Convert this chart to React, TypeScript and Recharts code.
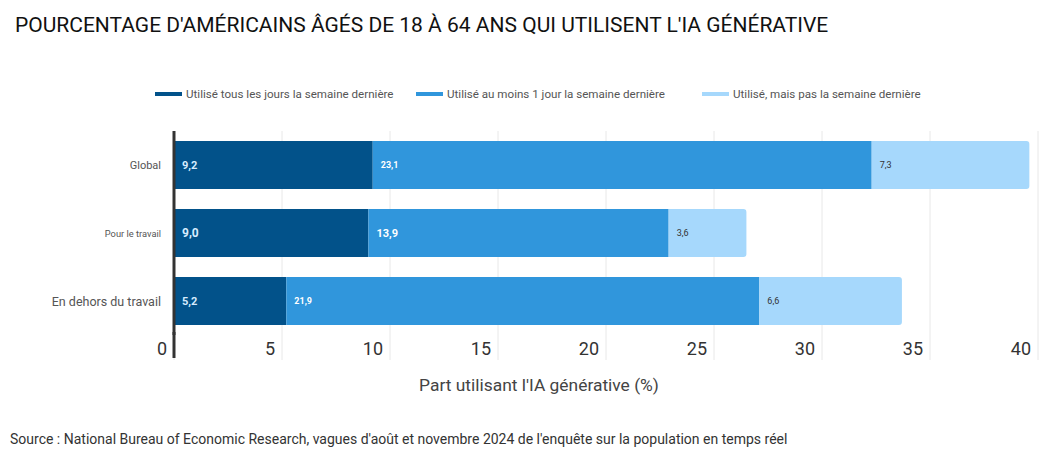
import { Bar, BarChart, CartesianGrid, LabelList, XAxis, YAxis } from "recharts";

const categories = ["Global", "Pour le travail", "En dehors du travail"];
const dailyLastWeek = [9.2, 9.0, 5.2];
const atLeastOneDay = [23.1, 13.9, 21.9];
const notLastWeek = [7.3, 3.6, 6.6];
const xTicks = [0, 5, 10, 15, 20, 25, 30, 35, 40];

const seriesNames = [
  "Utilisé tous les jours la semaine dernière",
  "Utilisé au moins 1 jour la semaine dernière",
  "Utilisé, mais pas la semaine dernière",
];

const COLORS = ["#02528a", "#3096dc", "#a6d8fc"];
const FONT = "Roboto, 'Noto Sans', sans-serif";

const data = categories.map((name, i) => ({
  name,
  daily: dailyLastWeek[i],
  weekly: atLeastOneDay[i],
  earlier: notLastWeek[i],
}));

// the source uses slightly different label sizes per row
const catFontSize = [11, 9.3, 12.5];
const dailyFontSize = [11, 12, 11];
const weeklyFontSize = [9, 11, 9];

const fmt = (v: number) => v.toFixed(1).replace(".", ",");

const CategoryTick = (props: any) => {
  const { x, y, payload, index } = props;
  return (
    <text
      x={x - 5}
      y={y}
      textAnchor="end"
      dominantBaseline="central"
      fontFamily={FONT}
      fontSize={catFontSize[index] ?? 11}
      fill="#555"
    >
      {payload.value}
    </text>
  );
};

const ValueTick = (props: any) => {
  const { x, y, payload } = props;
  return (
    <g>
      {payload.value === 0 && (
        <line x1={x} x2={x} y1={y - 30} y2={y - 4} stroke="#333" strokeWidth={3} />
      )}
      <text
        x={x - 7}
        y={y - 14}
        textAnchor="end"
        dominantBaseline="central"
        fontFamily={FONT}
        fontSize={18}
        fill="#333"
      >
        {payload.value}
      </text>
    </g>
  );
};

const makeLabel =
  (color: string, sizes: number[] | number, weight: number) => (props: any) => {
    const { x, y, height, value, index } = props;
    const size = Array.isArray(sizes) ? sizes[index] : sizes;
    return (
      <text
        x={x + 8}
        y={y + height / 2}
        dominantBaseline="central"
        fontFamily={FONT}
        fontSize={size}
        fontWeight={weight}
        fill={color}
      >
        {fmt(value)}
      </text>
    );
  };

const LegendRow = () => {
  const lefts = [155, 416, 702];
  return (
    <div style={{ position: "absolute", top: 86, left: 0, width: 1063, height: 16 }}>
      {seriesNames.map((name, i) => (
        <div
          key={name}
          style={{
            position: "absolute",
            left: lefts[i],
            top: 0,
            display: "flex",
            alignItems: "center",
            height: 16,
          }}
        >
          <span
            style={{ display: "inline-block", width: 27, height: 4, background: COLORS[i], marginRight: 4 }}
          />
          <span style={{ fontFamily: FONT, fontSize: 11.6, color: "#555", whiteSpace: "nowrap" }}>
            {name}
          </span>
        </div>
      ))}
    </div>
  );
};

export default function App() {
  return (
    <div style={{ position: "relative", width: 1063, height: 463, margin: -8, background: "#fff" }}>
      <div
        style={{
          position: "absolute",
          left: 15,
          top: 13,
          fontFamily: FONT,
          fontSize: 21,
          color: "#111",
          whiteSpace: "nowrap",
        }}
      >
        POURCENTAGE D'AMÉRICAINS ÂGÉS DE 18 À 64 ANS QUI UTILISENT L'IA GÉNÉRATIVE
      </div>
      <LegendRow />
      <div style={{ position: "absolute", left: 0, top: 0 }}>
        <BarChart
          width={1063}
          height={463}
          data={data}
          layout="vertical"
          margin={{ top: 131, right: 25, bottom: 98, left: 14 }}
          barSize={48}
        >
          <CartesianGrid horizontal={false} stroke="#e8e8e8" />
          <XAxis
            type="number"
            domain={[0, 40]}
            ticks={xTicks}
            axisLine={false}
            tickSize={25}
            tickLine={{ stroke: "#e8e8e8" }}
            height={30}
            tick={<ValueTick />}
            interval={0}
          />
          <YAxis
            type="category"
            dataKey="name"
            width={160}
            axisLine={{ stroke: "#333", strokeWidth: 3 }}
            tickLine={false}
            tick={<CategoryTick />}
          />
          <Bar dataKey="daily" stackId="a" fill={COLORS[0]} isAnimationActive={false}>
            <LabelList dataKey="daily" content={makeLabel("#d6ecff", dailyFontSize, 700)} />
          </Bar>
          <Bar dataKey="weekly" stackId="a" fill={COLORS[1]} isAnimationActive={false}>
            <LabelList dataKey="weekly" content={makeLabel("#ffffff", weeklyFontSize, 700)} />
          </Bar>
          <Bar
            dataKey="earlier"
            stackId="a"
            fill={COLORS[2]}
            radius={[0, 3, 3, 0]}
            isAnimationActive={false}
          >
            <LabelList dataKey="earlier" content={makeLabel("#333", 9, 400)} />
          </Bar>
        </BarChart>
      </div>
      <div
        style={{
          position: "absolute",
          left: 0,
          width: 1078,
          top: 375,
          textAlign: "center",
          fontFamily: FONT,
          fontSize: 17.4,
          color: "#444",
        }}
      >
        Part utilisant l'IA générative (%)
      </div>
      <div
        style={{
          position: "absolute",
          left: 10,
          top: 431,
          fontFamily: FONT,
          fontSize: 14,
          color: "#333",
          whiteSpace: "nowrap",
        }}
      >
        Source : National Bureau of Economic Research, vagues d'août et novembre 2024 de l'enquête sur la population en temps réel
      </div>
    </div>
  );
}
